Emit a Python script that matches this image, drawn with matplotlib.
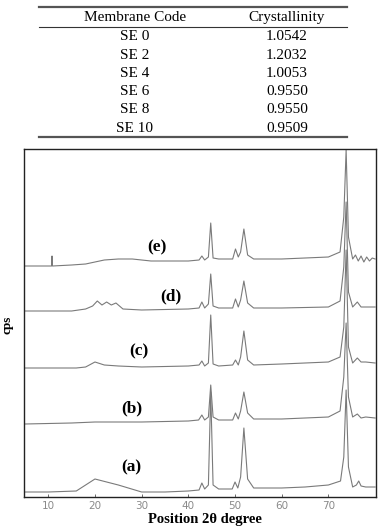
import numpy as np
import matplotlib.pyplot as plt

# table data
codes = ["SE 0", "SE 2", "SE 4", "SE 6", "SE 8", "SE 10"]
crystallinity = ["1.0542", "1.2032", "1.0053", "0.9550", "0.9550", "0.9509"]

# XRD traces (2theta, cps in arbitrary units incl. stacking offset)
theta_a = [5, 10, 16, 20, 25, 30, 35, 40, 42.3, 42.9, 43.5, 44.3, 44.8, 45.3, 46.5, 49.4, 50.0, 50.6,
           51.2, 51.9, 52.7, 54, 60, 65, 70, 72.6, 73.3, 73.8, 74.3, 75.2, 76.0, 76.5, 77.0, 78, 80]
cps_a = [5, 5, 6, 18, 12, 5, 5, 6, 7, 14, 8, 12, 105, 12, 8, 8, 15, 9,
         20, 69, 18, 9, 9, 10, 12, 16, 40, 107, 30, 10, 12, 16, 11, 10, 10]

theta_b = [5, 15, 20, 30, 40, 42.2, 42.9, 43.5, 44.3, 44.8, 45.3, 46.5, 49.5, 50.1, 50.7, 51.2, 51.9,
           52.7, 54, 60, 70, 72.5, 73.3, 73.8, 74.3, 75.2, 76.2, 77, 78, 80]
cps_b = [73, 74, 75, 75, 76, 77, 82, 77, 80, 112, 80, 77, 77, 84, 78, 86, 105,
         84, 78, 78, 80, 86, 120, 174, 100, 80, 83, 79, 80, 79]

theta_c = [5, 16, 18, 20, 22, 25, 30, 40, 42.3, 42.9, 43.5, 44.3, 44.8, 45.3, 46.5, 49.5, 50.1, 50.7,
           51.2, 51.9, 52.7, 54, 60, 70, 72.5, 73.3, 73.8, 74.3, 75.2, 76.2, 77, 78, 80]
cps_c = [129, 129, 130, 135, 132, 131, 130, 131, 132, 136, 131, 134, 182, 133, 131, 132, 137, 132,
         140, 166, 137, 132, 133, 135, 140, 170, 247, 150, 134, 139, 135, 135, 134]

theta_d = [5, 15, 18, 19.5, 20.5, 21.5, 22.5, 23.5, 24.5, 26, 30, 40, 42.3, 42.9, 43.5, 44.3, 44.8,
           45.3, 46.5, 49.5, 50.1, 50.7, 51.2, 51.9, 52.7, 54, 60, 70, 72.5, 73.3, 73.8, 74.3, 75.2,
           76.2, 77, 78, 80]
cps_d = [186, 186, 188, 191, 196, 192, 195, 192, 194, 188, 187, 188, 189, 195, 189, 193, 223,
         191, 189, 189, 198, 190, 197, 216, 194, 189, 189, 190, 196, 230, 295, 205, 190,
         195, 190, 190, 190]

theta_e = [5, 10.7, 10.8, 10.9, 15, 18, 22, 25, 28, 32, 40, 42.3, 42.9, 43.5, 44.3, 44.8, 45.3, 46.5,
           49.5, 50.1, 50.7, 51.2, 51.9, 52.7, 54, 60, 70, 72.5, 73.3, 73.8, 74.3, 75.2, 75.8, 76.4,
           77, 77.6, 78.2, 78.8, 79.4, 80]
cps_e = [231, 231, 241, 231, 232, 233, 237, 238, 238, 236, 236, 237, 241, 237, 240, 274, 239, 238,
         238, 248, 240, 245, 268, 242, 238, 238, 240, 245, 280, 347, 260, 238, 242, 236,
         241, 235, 240, 236, 239, 238]

labels = ["(a)", "(b)", "(c)", "(d)", "(e)"]
label_theta = [27.7, 27.9, 29.4, 36.3, 33.3]
label_cps = [30, 89, 146, 201, 250]

W, H = 385, 531
fig = plt.figure(figsize=(W / 100, H / 100), dpi=100)
serif = "Liberation Serif"

# ---- table ----
tab = fig.add_axes([0, 1 - 140 / H, 1, 140 / H])
tab.set_xlim(0, W)
tab.set_ylim(140, 0)
tab.axis("off")
tab.plot([39, 347], [7, 7], color="#555555", lw=1.6)
tab.plot([39, 347], [27, 27], color="#333333", lw=0.8)
tab.plot([39, 347], [137, 137], color="#555555", lw=1.6)
tab.text(135, 17.5, "Membrane Code", ha="center", va="center", family=serif, fontsize=11)
tab.text(287, 17.5, "Crystallinity", ha="center", va="center", family=serif, fontsize=11)
for i, (c, v) in enumerate(zip(codes, crystallinity)):
    y = 37 + i * 18.2
    tab.text(135, y, c, ha="center", va="center", family=serif, fontsize=11)
    tab.text(287, y, v, ha="center", va="center", family=serif, fontsize=11)

# ---- XRD plot ----
ax = fig.add_axes([24 / W, 1 - 497 / H, 352 / W, 348 / H])
for th, ic in [(theta_a, cps_a), (theta_b, cps_b), (theta_c, cps_c), (theta_d, cps_d), (theta_e, cps_e)]:
    ax.plot(th, ic, color="#7a7a7a", lw=0.8)
for lab, tx, ty in zip(labels, label_theta, label_cps):
    ax.text(tx, ty, lab, ha="center", va="center", family=serif, fontweight="bold", fontsize=12.5)

ax.set_xlim(4.8, 80.2)
ax.set_ylim(0, 348)
ax.set_xticks([10, 20, 30, 40, 50, 60, 70])
ax.set_yticks([])
ax.tick_params(axis="x", direction="in", length=2, width=0.6, labelsize=7.5,
               labelcolor="#8a8a8a", pad=3, color="#555555")
for s in ax.spines.values():
    s.set_linewidth(1.0)
    s.set_color("#222222")

fig.text(205 / W, 1 - 520 / H, "Position 2θ degree", ha="center", va="center",
         family=serif, fontweight="bold", fontsize=10.5)
fig.text(8 / W, 1 - 325 / H, "cps", ha="center", va="center", rotation=90,
         family=serif, fontweight="bold", fontsize=9.5)

fig.savefig("out.png", dpi=100)
